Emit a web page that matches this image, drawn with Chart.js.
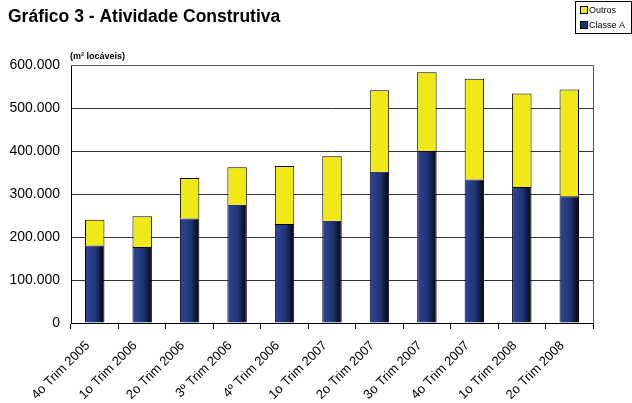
<!DOCTYPE html>
<html>
<head>
<meta charset="utf-8">
<script src="https://cdn.jsdelivr.net/npm/chart.js@4"></script>
<style>
  html, body { margin: 0; padding: 0; background: #fff; }
  #wrap { width: 632px; height: 403px; position: relative; }
</style>
</head>
<body>
<div id="wrap"><canvas id="myChart"></canvas></div>
<script>
// chart data
var quarters = ['4o Trim 2005', '1o Trim 2006', '2o Trim 2006', '3º Trim 2006', '4º Trim 2006',
    '1o Trim 2007', '2o Trim 2007', '3o Trim 2007', '4o Trim 2007', '1o Trim 2008', '2o Trim 2008'];
var classeA = [180000, 177000, 243000, 275000, 230000, 238000, 352000, 400000, 334000, 316000, 295000];
var outros = [60000, 71000, 94000, 87000, 135000, 150000, 189000, 183000, 234000, 218000, 248000];
var yTicks = [0, 100000, 200000, 300000, 400000, 500000, 600000];

var FONT = '"Liberation Sans", Arial, sans-serif';
var BAR_PCT = 0.41;

function fmt(v) {
    // portuguese style thousand separator
    return String(v).replace(/\B(?=(\d{3})+(?!\d))/g, '.');
}

// navy bars in the original have a left-to-right fade to black
function navyFill(c) {
    var chart = c.chart;
    if (!chart.chartArea || c.dataIndex === undefined) return '#25397f';
    var xs = chart.scales.x;
    var cx = xs.getPixelForValue(c.dataIndex);
    var w = (xs.width / quarters.length) * BAR_PCT;
    var g = chart.ctx.createLinearGradient(cx - w / 2, 0, cx + w / 2, 0);
    g.addColorStop(0, '#2d4698');
    g.addColorStop(0.55, '#203373');
    g.addColorStop(1, '#02040c');
    return g;
}

var decor = {
    id: 'decor',
    beforeDraw: function(chart) {
        var ctx = chart.ctx;
        ctx.save();
        ctx.fillStyle = '#fff';
        ctx.fillRect(0, 0, chart.width, chart.height);
        ctx.restore();
    },
    afterDraw: function(chart) {
        var ctx = chart.ctx;
        var a = chart.chartArea;
        ctx.save();
        // title
        ctx.fillStyle = '#000';
        ctx.font = 'bold 17.5px ' + FONT;
        ctx.textBaseline = 'middle';
        ctx.textAlign = 'left';
        ctx.fillText('Gráfico 3 - Atividade Construtiva', 8, 17);
        // unit label
        ctx.font = 'bold 9px ' + FONT;
        ctx.fillText('(m² locáveis)', a.left - 1, 57);
        // plot frame (top + right)
        ctx.strokeStyle = '#555';
        ctx.lineWidth = 1;
        ctx.beginPath();
        ctx.moveTo(a.left, a.top + 0.5);
        ctx.lineTo(a.right + 0.5, a.top + 0.5);
        ctx.lineTo(a.right + 0.5, a.bottom);
        ctx.stroke();
        // legend box
        var lx = 575, ly = 1, lw = 56, lh = 32;
        ctx.strokeStyle = '#000';
        ctx.strokeRect(lx + 0.5, ly + 0.5, lw, lh);
        var items = chart.data.datasets.slice().reverse();
        ctx.font = '9px ' + FONT;
        items.forEach(function(ds, i) {
            var y = 10 + i * 15;
            ctx.fillStyle = ds.legendColor;
            ctx.fillRect(lx + 5, y - 3, 7, 7);
            ctx.strokeStyle = '#000';
            ctx.strokeRect(lx + 5.5, y - 3.5, 7, 7);
            ctx.fillStyle = '#000';
            ctx.fillText(ds.label, lx + 14, y + 1);
        });
        ctx.restore();
    }
};

var myChart = new Chart(document.getElementById('myChart'), {
    type: 'bar',
    data: {
        labels: quarters,
        datasets: [{
            label: 'Classe A',
            data: classeA,
            backgroundColor: navyFill,
            legendColor: '#1f3170',
            borderColor: '#000',
            borderWidth: 1,
            barPercentage: BAR_PCT,
            categoryPercentage: 1
        }, {
            label: 'Outros',
            data: outros,
            backgroundColor: '#f1e818',
            legendColor: '#f1e818',
            borderColor: '#000',
            borderWidth: 1,
            barPercentage: BAR_PCT,
            categoryPercentage: 1
        }]
    },
    options: {
        responsive: true,
        maintainAspectRatio: false,
        animation: false,
        layout: { padding: { top: 65, right: 39, left: 0, bottom: 0 } },
        plugins: {
            legend: { display: false },
            tooltip: { enabled: false }
        },
        scales: {
            x: {
                stacked: true,
                offset: true,
                grid: {
                    offset: true,
                    drawOnChartArea: false,
                    drawTicks: true,
                    tickLength: 6,
                    color: '#000'
                },
                border: { color: '#000' },
                ticks: {
                    color: '#000',
                    font: { family: FONT, size: 13 },
                    minRotation: 45,
                    maxRotation: 45,
                    autoSkip: false,
                    padding: 9,
                    labelOffset: -7
                },
                afterFit: function(s) { s.height = 80; }
            },
            y: {
                stacked: true,
                min: 0,
                max: 600000,
                afterBuildTicks: function(s) {
                    s.ticks = yTicks.map(function(v) { return { value: v }; });
                },
                grid: { color: '#333', drawTicks: false },
                border: { color: '#000' },
                ticks: {
                    color: '#000',
                    font: { family: FONT, size: 14 },
                    padding: 11,
                    callback: function(v) { return fmt(v); }
                },
                afterFit: function(s) { s.width = 71; }
            }
        }
    },
    plugins: [decor]
});
</script>
</body>
</html>
